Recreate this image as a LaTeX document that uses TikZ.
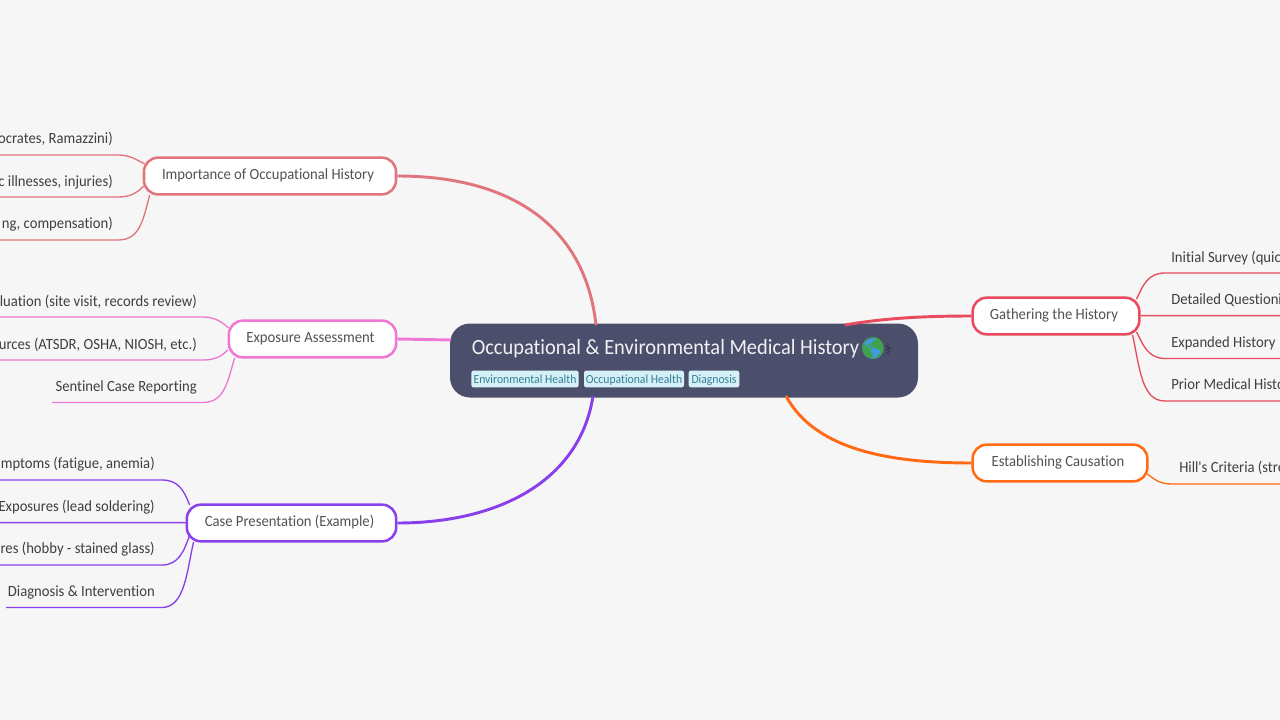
\documentclass[tikz,border=0pt]{standalone}
\usepackage{fontspec}
\setmainfont[Ligatures={TeXOff,CommonOff},FakeStretch=0.94]{Carlito}
\newfontfamily\emojifont{Noto Emoji}
\newfontfamily\symfont{DejaVu Sans}
\definecolor{bg}{HTML}{F6F6F6}
\definecolor{rootc}{HTML}{4C4F6B}
\definecolor{tagf}{HTML}{D5F1F7}
\definecolor{tagt}{HTML}{337F98}
\definecolor{ctext}{HTML}{3F3F3F}
\definecolor{cimp}{HTML}{E0757D}
\definecolor{cexp}{HTML}{EE78D3}
\definecolor{ccase}{HTML}{8A3FEC}
\definecolor{cgat}{HTML}{E94B5E}
\definecolor{cest}{HTML}{FF6A13}
\definecolor{gblue}{HTML}{3F9BE3}
\definecolor{ggreen}{HTML}{3FA34D}
\tikzset{
  branchbox/.style={draw=#1,line width=1.9pt,fill=white,rounded corners=10.5pt,inner sep=0pt,font=\fontsize{11.7}{13}\selectfont,text=ctext!90!white,text height=8.6pt,text depth=3.4pt,execute at end node={\kern3pt}},
  trunk/.style={draw=#1,line width=2.2pt},
  twig/.style={draw=#1,line width=1pt},
  leafl/.style={anchor=base east,inner sep=0pt,text=ctext,font=\fontsize{11.7}{13}\selectfont},
  leafr/.style={anchor=base west,inner sep=0pt,text=ctext,font=\fontsize{11.7}{13}\selectfont},
  tagbox/.style={fill=tagf,rounded corners=1.8pt,inner sep=0pt,text=tagt,font=\fontsize{9.3}{11}\selectfont,text height=8pt,text depth=1.4pt},
}
\begin{document}
\begin{tikzpicture}[x=0.75pt,y=-0.75pt]
\useasboundingbox (0,0) rectangle (1280,720);
\clip (0,0) rectangle (1280,720);
\fill[bg] (0,0) rectangle (1280,720);

% root and branches
\node[fill=rootc,rounded corners=15pt,minimum width=351pt,minimum height=55.5pt,inner sep=0pt] (root) at (684,360.5) {};
\node[branchbox=cimp,minimum width=189pt,minimum height=27.5pt] (imp) at (270,176) {Importance of Occupational History};
\node[branchbox=cexp,minimum width=125.5pt,minimum height=27.5pt] (exp) at (312.5,339) {Exposure Assessment};
\node[branchbox=ccase,minimum width=157pt,minimum height=27.5pt] (cas) at (291.5,523) {Case Presentation (Example)};
\node[branchbox=cgat,minimum width=125pt,minimum height=27.5pt] (gat) at (1056,316) {Gathering the History};
\node[branchbox=cest,minimum width=131pt,minimum height=27.5pt] (est) at (1060,463) {Establishing Causation};

% coordinates on the root's outline
\coordinate (rimp) at (596,325);
\coordinate (rexp) at (451,340);
\coordinate (rcas) at (593,396);
\coordinate (rgat) at (845,325);
\coordinate (rest) at (786,396);

\draw[trunk=cimp] (rimp) .. controls (585,225) and (510,176) .. (imp.east);
\draw[trunk=cexp] (rexp) -- (exp.east);
\draw[trunk=ccase] (rcas) .. controls (580,480) and (500,523) .. (cas.east);
\draw[trunk=cgat] (rgat) .. controls (885,318) and (925,316) .. (gat.west);
\draw[trunk=cest] (rest) .. controls (815,450) and (890,463) .. (est.west);

% leaves, left
\node[leafl] (a1) at (113,143.5) {ocrates, Ramazzini)};
\node[leafl] (a2) at (113,186.5) {c illnesses, injuries)};
\node[leafl] (a3) at (113,228.5) {ng, compensation)};
\coordinate (a1e) at (-5,155); \coordinate (a2e) at (-5,197); \coordinate (a3e) at (-5,240);
\draw[twig=cimp] (imp.west)++(2,-12) .. controls (137,160) and (130,155) .. (118,155) -- (a1e);
\draw[twig=cimp] (imp.west)++(1,10) .. controls (137,193) and (130,197) .. (118,197) -- (a2e);
\draw[twig=cimp] (imp.west)++(7,19) .. controls (143,220) and (140,240) .. (118,240) -- (a3e);

\node[leafl] (b1) at (197,306.5) {luation (site visit, records review)};
\node[leafl] (b2) at (197,349.5) {urces (ATSDR, OSHA, NIOSH, etc.)};
\node[leafl] (b3) at (197,391.5) {Sentinel Case Reporting};
\coordinate (b1e) at (-5,317); \coordinate (b2e) at (-5,360); \coordinate (b3e) at (52,402.5);
\draw[twig=cexp] (exp.west)++(1,-11) .. controls (222,322) and (215,317) .. (203,317) -- (b1e);
\draw[twig=cexp] (exp.west)++(0,11) .. controls (222,356) and (215,360) .. (203,360) -- (b2e);
\draw[twig=cexp] (exp.west)++(7,19) .. controls (228,380) and (225,402.5) .. (203,402.5) -- (b3e);

\node[leafl] (c1) at (155,468.5) {mptoms (fatigue, anemia)};
\node[leafl] (c2) at (155,511.5) {Exposures (lead soldering)};
\node[leafl] (c3) at (155,553.5) {res (hobby - stained glass)};
\node[leafl] (c4) at (155,596.5) {Diagnosis \& Intervention};
\coordinate (c1e) at (-5,480); \coordinate (c2e) at (-5,522.6); \coordinate (c3e) at (-5,565); \coordinate (c4e) at (6,607.5);
\draw[twig=ccase] (cas.west)++(4,-18) .. controls (184,490) and (178,480) .. (162,480) -- (c1e);
\draw[twig=ccase] (cas.west)++(0,-0.4) -- (c2e);
\draw[twig=ccase] (cas.west)++(4,12) .. controls (184,552) and (178,565) .. (162,565) -- (c3e);
\draw[twig=ccase] (cas.west)++(8,19) .. controls (187,570) and (185,607.5) .. (162,607.5) -- (c4e);

% leaves, right
\node[leafr] (d1) at (1171,262.5) {Initial Survey (quic};
\node[leafr] (d2) at (1171,304.5) {Detailed Questioni};
\node[leafr] (d3) at (1171,347.5) {Expanded History};
\node[leafr] (d4) at (1171,389.5) {Prior Medical Histo};
\coordinate (d1e) at (1285,273); \coordinate (d2e) at (1285,315.6); \coordinate (d3e) at (1285,358.5); \coordinate (d4e) at (1285,401);
\draw[twig=cgat] (gat.east)++(-4,-17) .. controls (1143,285) and (1148,273) .. (1165,273) -- (d1e);
\draw[twig=cgat] (gat.east)++(0,-0.4) -- (d2e);
\draw[twig=cgat] (gat.east)++(-4,16) .. controls (1143,345) and (1148,358.5) .. (1165,358.5) -- (d3e);
\draw[twig=cgat] (gat.east)++(-8,19) .. controls (1140,370) and (1142,401) .. (1165,401) -- (d4e);

\node[leafr] (e1) at (1179,472.5) {Hill's Criteria (stre};
\coordinate (e1e) at (1285,484);
\draw[twig=cest] (est.east)++(-1,11) .. controls (1155,480) and (1160,484) .. (1172,484) -- (e1e);

% root content
\node[anchor=base west,inner sep=0pt,text=white!92!rootc,font=\fontsize{16.3}{18}\selectfont] (title) at (471.5,354) {Occupational \& Environmental Medical History};
\fill[gblue] (873,348.5) circle[radius=10.5];
\node[inner sep=0pt,text=ggreen,font=\emojifont\fontsize{16}{18}\selectfont] (globe) at (873,348.5) {🌎};
\node[inner sep=0pt,text=rootc!60!black,font=\symfont\fontsize{11}{13}\selectfont] (staff) at (888,349) {⚕};
\node[tagbox,minimum width=80.5pt,minimum height=12.7pt] (t1) at (525,379) {Environmental Health};
\node[tagbox,minimum width=75pt,minimum height=12.7pt] (t2) at (634,379) {Occupational Health};
\node[tagbox,minimum width=38pt,minimum height=12.7pt] (t3) at (714,379) {Diagnosis};
\end{tikzpicture}
\end{document}
